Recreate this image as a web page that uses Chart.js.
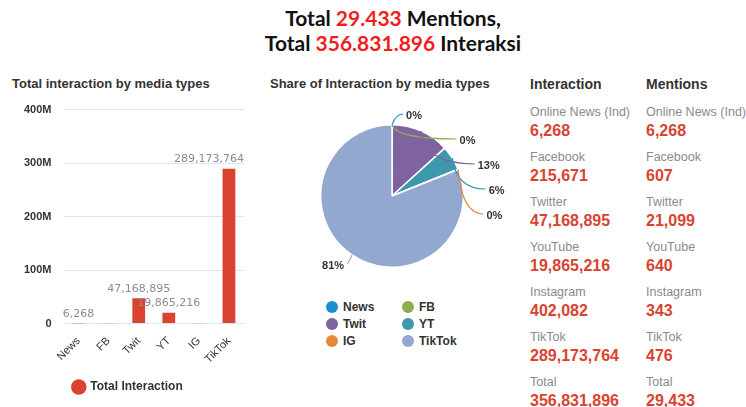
<!DOCTYPE html>
<html>
<head>
<meta charset="utf-8">
<script src="https://cdn.jsdelivr.net/npm/chart.js@4.4.1/dist/chart.umd.min.js"></script>
<style>
  body { margin: 0; width: 746px; height: 407px; background: #fff; font-family: "Liberation Sans", Arial, sans-serif; overflow: hidden; }
  #head { position: absolute; left: 0; top: 5px; width: 786px; text-align: center; font-family: Lato, sans-serif; font-weight: 700; font-size: 21px; line-height: 25px; color: #111; }
  #head span { color: #f21d1d; }
  .ptitle { position: absolute; top: 76px; font-weight: 700; font-size: 13px; color: #333; }
  #barBox { position: absolute; left: 8px; top: 91px; width: 244px; height: 312px; }
  #pieBox { position: absolute; left: 262px; top: 100px; width: 260px; height: 190px; }
  #pieLegend { position: absolute; left: 326px; top: 299px; display: grid; grid-template-columns: 76px 76px; row-gap: 1px; font-weight: 700; font-size: 12px; color: #333; }
  #pieLegend div { height: 16px; line-height: 16px; }
  #pieLegend i { display: inline-block; width: 12px; height: 12px; border-radius: 50%; vertical-align: -2px; margin-right: 5px; }
  .col { position: absolute; top: 76px; white-space: nowrap; }
  .col h4 { margin: 0 0 11px 0; font-size: 14px; color: #333; line-height: 17px; }
  .col .lb { font-size: 12.5px; color: #8a8a8a; line-height: 16px; }
  .col .vl { font-size: 16px; font-weight: 700; color: #d9432f; line-height: 20px; margin-bottom: 8px; margin-top: 1px; }
</style>
</head>
<body>
<div id="head"></div>
<div class="ptitle" style="left:12px">Total interaction by media types</div>
<div class="ptitle" style="left:270px">Share of Interaction by media types</div>
<div id="barBox"><canvas id="barChart"></canvas></div>
<div id="pieBox"><canvas id="pieChart"></canvas></div>
<div id="pieLegend"></div>
<div class="col" id="colInter" style="left:530px"></div>
<div class="col" id="colMent" style="left:646px"></div>
<script>
const mediaShort = ["News", "FB", "Twit", "YT", "IG", "TikTok"];
const mediaLong = ["Online News (Ind)", "Facebook", "Twitter", "YouTube", "Instagram", "TikTok"];
const interactions = [6268, 215671, 47168895, 19865216, 402082, 289173764];
const mentions = [6268, 607, 21099, 640, 343, 476];
const barLabelHidden = ["FB", "IG"];
const yTicks = [0, 100000000, 200000000, 300000000, 400000000];
const pieColors = ["#1b8fce", "#8fac52", "#7e63a0", "#3d97ad", "#e8883a", "#93a8cf"];
const barColor = "#d9432f";

const fmt = v => v.toLocaleString("en-US");
const fmtDot = v => v.toLocaleString("de-DE");
const totalInter = interactions.reduce((a, b) => a + b, 0);
const totalMent = mentions.reduce((a, b) => a + b, 0);

document.getElementById("head").innerHTML =
    "Total <span>" + fmtDot(totalMent) + "</span> Mentions,<br>Total <span>" + fmtDot(totalInter) + "</span> Interaksi";

function fillCol(id, title, values, total) {
    let html = "<h4>" + title + "</h4>";
    mediaLong.forEach((name, i) => {
        html += '<div class="lb">' + name + '</div><div class="vl">' + fmt(values[i]) + "</div>";
    });
    html += '<div class="lb">Total</div><div class="vl">' + fmt(total) + "</div>";
    document.getElementById(id).innerHTML = html;
}
fillCol("colInter", "Interaction", interactions, totalInter);
fillCol("colMent", "Mentions", mentions, totalMent);

document.getElementById("pieLegend").innerHTML = mediaShort.map((m, i) =>
    '<div><i style="background:' + pieColors[i] + '"></i>' + m + "</div>").join("");

// value labels above the bars
const barLabels = {
    id: "barLabels",
    afterDatasetsDraw(chart) {
        let ctx = chart.ctx;
        let area = chart.chartArea;
        ctx.save();
        ctx.font = "11px 'DejaVu Sans', sans-serif";
        ctx.fillStyle = "#8c8c8c";
        ctx.textAlign = "center";
        ctx.textBaseline = "bottom";
        chart.getDatasetMeta(0).data.forEach((bar, i) => {
            if (barLabelHidden.includes(mediaShort[i])) return;
            let txt = fmt(interactions[i]);
            let w = ctx.measureText(txt).width;
            let x = Math.min(bar.x, area.right - w / 2);
            ctx.fillText(txt, x, bar.y - 4);
        });
        ctx.restore();
    }
};

let barChart = new Chart(document.getElementById("barChart"), {
    type: "bar",
    data: {
        labels: mediaShort,
        datasets: [{
            label: "Total Interaction",
            data: interactions,
            backgroundColor: barColor,
            barPercentage: 0.5,
            categoryPercentage: 0.85
        }]
    },
    options: {
        responsive: true,
        maintainAspectRatio: false,
        animation: false,
        layout: { padding: { left: 4, right: 8, top: 4, bottom: 0 } },
        plugins: {
            legend: {
                position: "bottom",
                labels: { usePointStyle: true, pointStyle: "circle", boxWidth: 11, boxHeight: 11, color: "#333", font: { size: 12, weight: "bold", family: "'Liberation Sans', Arial" }, padding: 12 }
            },
            tooltip: { enabled: false }
        },
        scales: {
            y: {
                min: 0, max: 400000000,
                afterBuildTicks: axis => { axis.ticks = yTicks.map(v => ({ value: v })); },
                ticks: {
                    padding: 12, color: "#333",
                    font: { size: 11, weight: "bold", family: "'Liberation Sans', Arial" },
                    callback: v => v === 0 ? "0" : (v / 1000000) + "M"
                },
                grid: { color: "#dfe4f2", drawTicks: false },
                border: { display: false }
            },
            x: {
                ticks: { maxRotation: 45, minRotation: 45, color: "#333", font: { size: 11, family: "'Liberation Sans', Arial" } },
                grid: { display: false },
                border: { display: false }
            }
        }
    },
    plugins: [barLabels]
});

// percent labels with leader lines around the pie
const pieLabels = {
    id: "pieLabels",
    afterDatasetsDraw(chart) {
        let ctx = chart.ctx;
        let arcs = chart.getDatasetMeta(0).data;
        let total = interactions.reduce((a, b) => a + b, 0);
        let Ly = 82, Lx = 105, gap = 25;
        let right = [], left = [];
        arcs.forEach((arc, i) => {
            let mid = (arc.startAngle + arc.endAngle) / 2;
            let item = { i, mid, arc, dy: Ly * Math.sin(mid) };
            (Math.cos(mid) >= -0.05 ? right : left).push(item);
        });
        let prev = -Infinity;
        right.forEach(it => { it.dy = Math.max(it.dy, prev + gap); prev = it.dy; });
        ctx.save();
        ctx.font = "bold 11px 'Liberation Sans', Arial";
        ctx.fillStyle = "#333";
        ctx.textBaseline = "middle";
        let draw = (it, side) => {
            let a = it.arc;
            let r = a.outerRadius;
            let ex = a.x + r * Math.cos(it.mid), ey = a.y + r * Math.sin(it.mid);
            let k = Math.max(0, 1 - (it.dy / Ly) * (it.dy / Ly));
            let off = Math.max(Lx * Math.sqrt(k), 22);
            let lx = a.x + side * off, ly = a.y + it.dy;
            let txt = Math.round(interactions[it.i] / total * 100) + "%";
            let w = ctx.measureText(txt).width;
            let endX = lx - side * (w / 2 + 3);
            ctx.strokeStyle = pieColors[it.i];
            ctx.lineWidth = 1.2;
            ctx.beginPath();
            ctx.moveTo(ex, ey);
            ctx.quadraticCurveTo(ex + side * 4, ly, endX, ly);
            ctx.stroke();
            ctx.textAlign = "center";
            ctx.fillText(txt, lx, ly + 2);
        };
        right.forEach(it => draw(it, 1));
        left.forEach(it => draw(it, -1));
        ctx.restore();
    }
};

let pieChart = new Chart(document.getElementById("pieChart"), {
    type: "pie",
    data: {
        labels: mediaShort,
        datasets: [{
            data: interactions,
            backgroundColor: pieColors,
            borderColor: "#fff",
            borderWidth: 1.5
        }]
    },
    options: {
        responsive: true,
        maintainAspectRatio: false,
        animation: false,
        layout: { padding: { left: 40, right: 40, top: 24, bottom: 22 } },
        plugins: { legend: { display: false }, tooltip: { enabled: false } }
    },
    plugins: [pieLabels]
});
</script>
</body>
</html>
